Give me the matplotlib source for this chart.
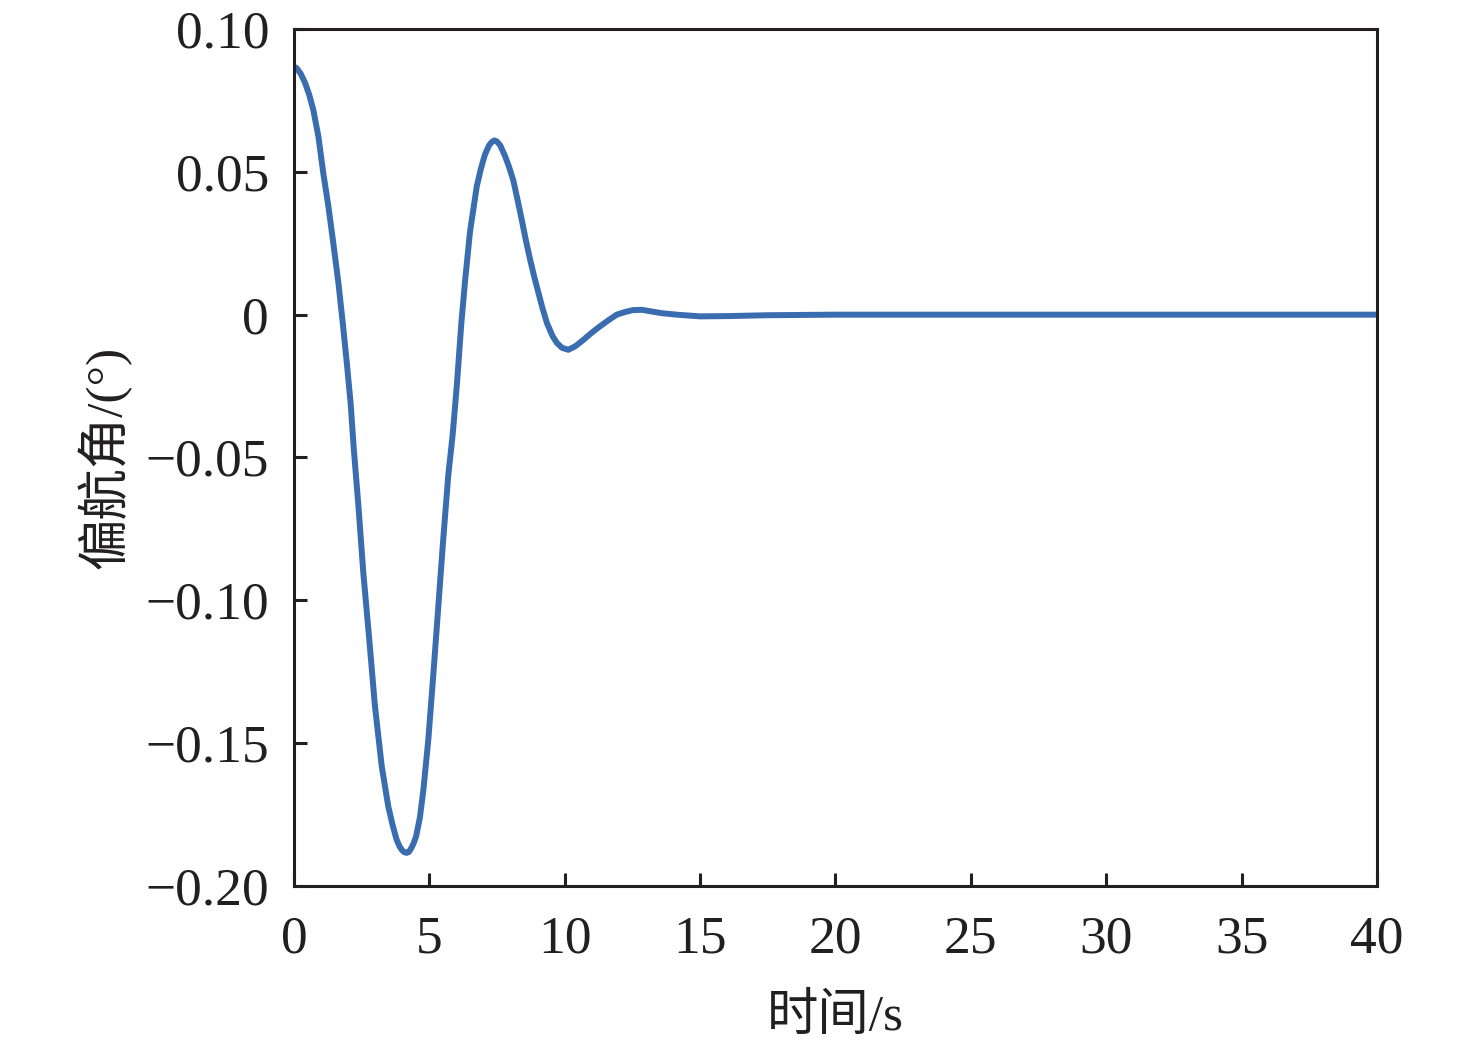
import matplotlib
matplotlib.use("Agg")
import matplotlib.pyplot as plt

# Yaw angle response
t = [0.0, 0.10, 0.25, 0.41, 0.56, 0.71, 0.90, 1.08, 1.27, 1.45, 1.64, 1.80, 1.95,
     2.09, 2.21, 2.38, 2.56, 2.78, 2.99, 3.24, 3.48, 3.65, 3.79, 3.90, 4.00, 4.08,
     4.16, 4.24, 4.33, 4.42, 4.51, 4.65, 4.78, 4.96, 5.15, 5.33, 5.51, 5.70, 5.86,
     6.02, 6.18, 6.32, 6.50, 6.75, 6.90, 7.05, 7.20, 7.30, 7.40, 7.50, 7.62, 7.80,
     7.95, 8.10, 8.25, 8.41, 8.56, 8.72, 8.88, 9.03, 9.18, 9.34, 9.55, 9.71, 9.90,
     10.13, 10.40, 10.69, 11.00, 11.30, 11.62, 11.92, 12.25, 12.53, 12.85, 13.15,
     13.60, 14.13, 15.0, 16.0, 17.5, 20.0, 25.0, 30.0, 35.0, 40.0]
yaw = [0.0868, 0.0863, 0.0843, 0.0811, 0.0770, 0.0718, 0.0624, 0.0496, 0.0379,
       0.0251, 0.0111, -0.0029, -0.0169, -0.0309, -0.0473, -0.0671, -0.0904,
       -0.1138, -0.1371, -0.1581, -0.1721, -0.1790, -0.1838, -0.1862, -0.1876,
       -0.1882, -0.1884, -0.1881, -0.1868, -0.1850, -0.1826, -0.1760, -0.1663,
       -0.1488, -0.1254, -0.1021, -0.0788, -0.0560, -0.0420, -0.0240, -0.0030,
       0.0120, 0.0290, 0.0449, 0.0510, 0.0560, 0.0592, 0.0604, 0.0610, 0.0606,
       0.0592, 0.0554, 0.0515, 0.0470, 0.0405, 0.0333, 0.0262, 0.0193, 0.0130,
       0.0076, 0.0022, -0.0029, -0.0075, -0.0099, -0.0116, -0.0123, -0.0110,
       -0.0088, -0.0063, -0.0041, -0.0019, 0.0, 0.0010, 0.0016, 0.0017, 0.0012,
       0.0005, 0.0, -0.0006, -0.0005, -0.0002, 0.0, 0.0, 0.0, 0.0, 0.0]

x_ticks = [0, 5, 10, 15, 20, 25, 30, 35, 40]
y_ticks = [0.10, 0.05, 0.0, -0.05, -0.10, -0.15, -0.20]
y_tick_labels = ["0.10", "0.05", "0", "\u22120.05", "\u22120.10", "\u22120.15", "\u22120.20"]

plt.rcParams['font.family'] = ['Liberation Serif', 'Noto Sans CJK SC']
plt.rcParams['axes.unicode_minus'] = True

fig = plt.figure(figsize=(14.76, 10.47), dpi=100)
ax = fig.add_axes([0.1992, 0.1538, 0.7337, 0.8185])

ax.plot(t, yaw, color='#3a6cb0', linewidth=4.3,
        solid_joinstyle='round', solid_capstyle='round')

ax.set_xlim(0, 40)
ax.set_ylim(-0.20, 0.10)
ax.set_xticks(x_ticks)
ax.set_xticklabels([str(v) for v in x_ticks])
ax.set_yticks(y_ticks)
ax.set_yticklabels(y_tick_labels)

ax.tick_params(direction='in', length=9.5, width=2.2, labelsize=38.5,
               top=False, right=False, colors='#231f20')
ax.tick_params(axis='x', pad=21)
ax.tick_params(axis='y', pad=18)
for s in ax.spines.values():
    s.set_linewidth(2.2)
    s.set_color('#231f20')

ax.set_xlabel("时间/s", fontsize=37, labelpad=22, color='#231f20')
ax.set_ylabel("偏航角/(°)", fontsize=37, labelpad=10, color='#231f20')

fig.savefig("out.png", dpi=100)
